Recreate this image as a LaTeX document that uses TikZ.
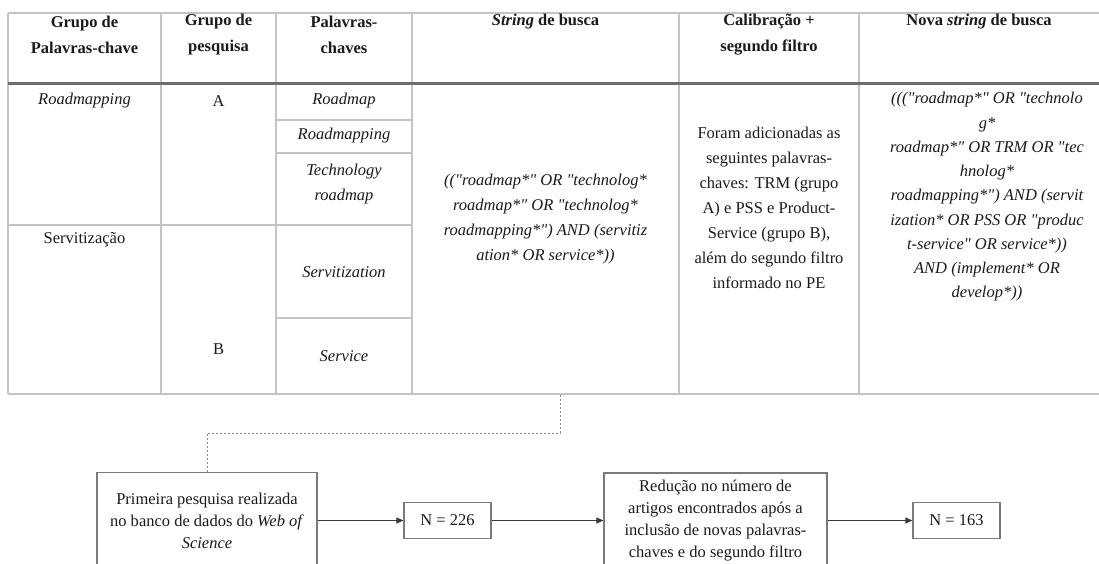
\documentclass[tikz,border=0pt]{standalone}
\usepackage{fontspec}
\setmainfont{Liberation Serif}[Ligatures=TeXOff]
\usetikzlibrary{arrows.meta}

\definecolor{rule}{HTML}{C4C4C4}
\definecolor{headrule}{HTML}{6E6E6E}
\definecolor{ink}{HTML}{1A1A1A}
\definecolor{boxline}{HTML}{7A7A7A}
\definecolor{arrowline}{HTML}{3A3A3A}
\definecolor{dashgray}{HTML}{8A8A8A}

\begin{document}
\begin{tikzpicture}[x=1pt,y=-1pt,
  grid/.style={draw=rule,line width=1.3pt},
  cell/.style={text=ink,font=\fontsize{16.5}{25}\selectfont,align=center,inner sep=0pt},
  head/.style={text=ink,font=\fontsize{16.5}{26}\selectfont\bfseries,align=center,inner sep=0pt},
  flowbox/.style={draw=boxline,line width=1.2pt,text=ink,font=\fontsize{16.5}{22}\selectfont,align=center,inner sep=0pt},
  flowarrow/.style={draw=arrowline,line width=1.1pt,-{Triangle[length=7pt,width=6pt]}},
  dashline/.style={draw=dashgray,line width=0.8pt,dash pattern=on 2pt off 2pt}]

\clip (0,0) rectangle (1099,563);
\fill[white] (0,0) rectangle (1099,563);

% table rules
\draw[grid] (8,13) -- (1099,13);
\draw[grid] (8,394) -- (1099,394);
\foreach \xc in {8,161,276,412,679,859}
  \draw[grid] (\xc,13) -- (\xc,394);
\draw[grid] (276,120) -- (412,120);
\draw[grid] (276,153) -- (412,153);
\draw[grid] (8,225) -- (412,225);
\draw[grid] (276,318) -- (412,318);
\draw[draw=headrule,line width=3pt] (8,83) -- (1099,83);

% header row
\node[head] (h1) at (84.5,35) {Grupo de\\Palavras-chave};
\node[head] (h2) at (218.5,35) {Grupo de\\pesquisa};
\node[head] (h3) at (344,35) {Palavras-\\chaves};
\node[head] (h4) at (545.5,22) {\textit{String} de busca};
\node[head] (h5) at (769,35) {Calibração +\\segundo filtro};
\node[head] (h6) at (979,22) {Nova \textit{string} de busca};

% group column
\node[cell] (g1) at (84.5,101) {\textit{Roadmapping}};
\node[cell] (g2) at (84.5,240) {Servitização};
\node[cell] (s1) at (218.5,101) {A};
\node[cell] (s2) at (218.5,349) {B};

% keywords column
\node[cell] (k1) at (344,101) {\textit{Roadmap}};
\node[cell] (k2) at (344,136) {\textit{Roadmapping}};
\node[cell] (k3) at (344,184) {\textit{Technology}\\\textit{roadmap}};
\node[cell] (k4) at (344,272) {\textit{Servitization}};
\node[cell] (k5) at (344,356) {\textit{Service}};

% search string
\node[cell] (str) at (545.5,219) {\itshape (("roadmap*" OR "technolog*\\\itshape roadmap*" OR "technolog*\\\itshape roadmapping*") AND (servitiz\\\itshape ation* OR service*))};

% calibration
\node[cell] (cal) at (769,207.5) {Foram adicionadas as\\seguintes palavras-\\chaves: TRM (grupo\\A) e PSS e Product-\\Service (grupo B),\\além do segundo filtro\\informado no PE};

% new search string
\node[cell,font=\fontsize{16.5}{24.25}\selectfont\itshape] (nstr) at (987,197) {((("roadmap*" OR "technolo\\g*\\roadmap*" OR TRM OR "tec\\hnolog*\\roadmapping*") AND (servit\\ization* OR PSS OR "produc\\t-service" OR service*))\\AND (implement* OR\\develop*))};

% flow chart
\node[flowbox,minimum width=220pt,minimum height=96pt] (first) at (207,520.5) {Primeira pesquisa realizada\\no banco de dados do \textit{Web of}\\\textit{Science}};
\node[flowbox,minimum width=87pt,minimum height=36pt] (n1) at (447.5,520.5) {N = 226};
\node[flowbox,minimum width=223pt,minimum height=95pt] (reduce) at (715.5,520.5) {Redução no número de\\artigos encontrados após a\\inclusão de novas palavras-\\chaves e do segundo filtro};
\node[flowbox,minimum width=87pt,minimum height=36pt] (n2) at (956.5,520.5) {N = 163};

\draw[flowarrow] (first) -- (n1);
\draw[flowarrow] (n1) -- (reduce);
\draw[flowarrow] (reduce) -- (n2);

\coordinate (tb) at (560,394);
\draw[dashline] (first.north) -- ++(0,-39) -| (tb);
\end{tikzpicture}
\end{document}
